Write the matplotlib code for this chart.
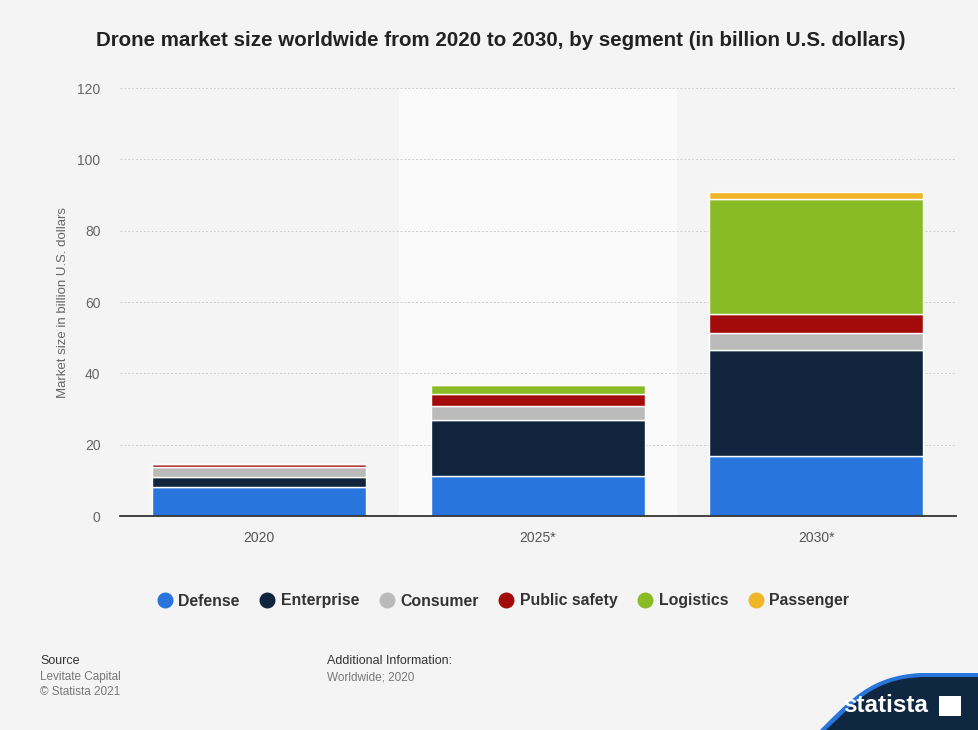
import matplotlib
matplotlib.use("Agg")
import matplotlib.pyplot as plt
import numpy as np
from matplotlib.path import Path
from matplotlib.patches import PathPatch, Rectangle

categories = ["2020", "2025*", "2030*"]
segments = ["Defense", "Enterprise", "Consumer", "Public safety", "Logistics", "Passenger"]
defense = [8.0, 11.2, 16.9]
enterprise = [2.8, 15.8, 29.6]
consumer = [2.9, 3.9, 4.8]
public_safety = [0.8, 3.3, 5.4]
logistics = [0.0, 2.6, 32.3]
passenger = [0.0, 0.0, 1.9]
colors = ["#2876dd", "#10253d", "#bababa", "#a30b0b", "#89bb27", "#f1b528"]
yticks = [0, 20, 40, 60, 80, 100, 120]

series = [defense, enterprise, consumer, public_safety, logistics, passenger]

plt.rcParams["font.family"] = ["Liberation Sans", "DejaVu Sans"]

bg = "#f4f4f4"
fig = plt.figure(figsize=(9.79, 7.30), dpi=100, facecolor=bg)
ax = fig.add_axes([120/979, 1-516/730, 835.5/979, 428/730])
ax.set_facecolor(bg)

x = np.arange(len(categories))
ax.axvspan(0.5, 1.5, color="#fafafa", zorder=0, lw=0)
bottom = np.zeros(len(categories))
for vals, col, name in zip(series, colors, segments):
    v = np.array(vals)
    ax.bar(x, v, width=0.77, bottom=bottom, color=col, edgecolor="white",
           linewidth=1.0, zorder=3, label=name)
    bottom += v

ax.set_xlim(-0.5, 2.5)
ax.set_ylim(0, 120)
ax.set_yticks(yticks)
ax.set_yticklabels([str(t) for t in yticks], fontsize=10, color="#666666")
ax.set_xticks(x)
ax.set_xticklabels(categories, fontsize=10, color="#555555")
ax.tick_params(axis="both", length=0)
ax.tick_params(axis="y", pad=14)
ax.tick_params(axis="x", pad=11)
ax.grid(axis="y", color="#cccccc", linestyle=(0, (2, 2)), linewidth=0.7, zorder=1)
for s in ["top", "right", "left"]:
    ax.spines[s].set_visible(False)
ax.spines["bottom"].set_color("#333333")
ax.spines["bottom"].set_linewidth(1.3)
ax.spines["bottom"].set_zorder(4)
ax.set_ylabel("Market size in billion U.S. dollars", fontsize=9.5, color="#666666", labelpad=6)

fig.text(0.511, 1-40/730, "Drone market size worldwide from 2020 to 2030, by segment (in billion U.S. dollars)",
         ha="center", va="center", fontsize=14.8, fontweight="bold", color="#222222")

# Legend
handles = [plt.Line2D([], [], marker="o", linestyle="none", markersize=10.5,
                      markerfacecolor=c, markeredgecolor=c) for c in colors]
fig.legend(handles, segments, loc="center", bbox_to_anchor=(0.513, 1-601/730), ncol=6,
           frameon=False, handletextpad=0.25, columnspacing=1.15, handlelength=1.2,
           prop={"weight": "bold", "size": 11.4}, labelcolor="#333333")

# Footer
fig.text(40/979, 1-661/730, "Source", fontsize=9, color="#333333", va="center")
fig.text(40/979, 1-677/730, "Levitate Capital", fontsize=8.5, color="#777777", va="center")
fig.text(40/979, 1-692/730, "© Statista 2021", fontsize=8.5, color="#777777", va="center")
fig.text(327/979, 1-661/730, "Additional Information:", fontsize=9, color="#333333", va="center")
fig.text(327/979, 1-677/730, "Worldwide; 2020", fontsize=8.5, color="#777777", va="center")

# Statista logo shape
def fc(px, py):
    return (px/979, 1-py/730)
verts = [fc(820, 730), fc(850, 700), fc(870, 676), fc(920, 673),
         fc(979, 673), fc(979, 730), fc(820, 730)]
codes = [Path.MOVETO, Path.CURVE4, Path.CURVE4, Path.CURVE4,
         Path.LINETO, Path.LINETO, Path.CLOSEPOLY]
fig.patches.append(PathPatch(Path(verts, codes), facecolor="#2876dd", edgecolor="none",
                             transform=fig.transFigure))
verts2 = [fc(826, 730), fc(855, 703), fc(872, 679), fc(922, 677),
          fc(979, 677), fc(979, 730), fc(826, 730)]
fig.patches.append(PathPatch(Path(verts2, codes), facecolor="#0f2740", edgecolor="none",
                             transform=fig.transFigure))
fig.text(886/979, 1-706/730, "statista", fontsize=17.5, fontweight="bold", color="white",
         ha="center", va="center")
fig.patches.append(Rectangle(fc(939, 716), 22/979, 20/730, facecolor="white",
                             edgecolor="none", transform=fig.transFigure))

fig.savefig("out.png", dpi=100, facecolor=bg)
